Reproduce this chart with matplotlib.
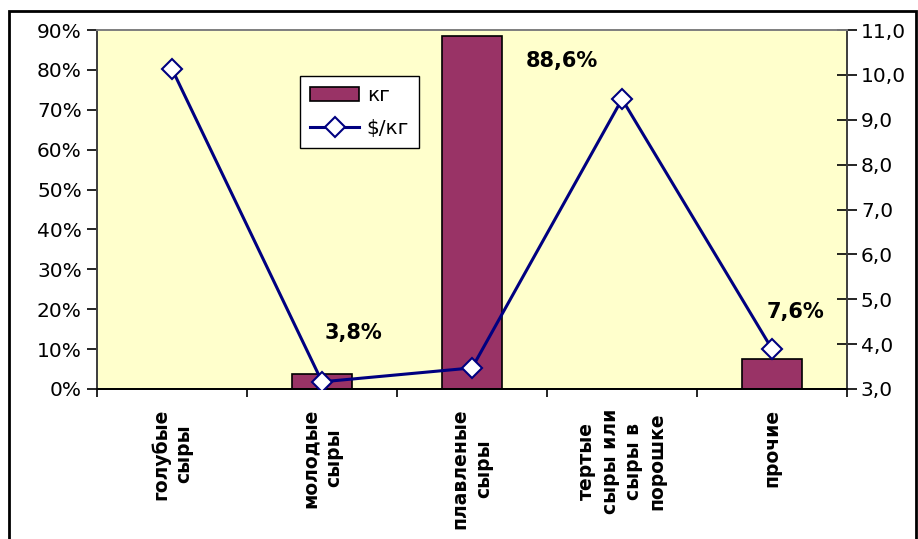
import numpy as np
import matplotlib.pyplot as plt
from matplotlib.patches import Rectangle
from matplotlib.ticker import FuncFormatter

# cheese categories, share by weight and price per kg
categories = ['голубые\nсыры', 'молодые\nсыры', 'плавленые\nсыры',
              'тертые\nсыры или\nсыры в\nпорошке', 'прочие']
share_kg = [np.nan, 3.8, 88.6, np.nan, 7.6]
price_per_kg = [10.13, 3.16, 3.47, 9.46, 3.89]
label_text = {1: '3,8%', 2: '88,6%', 4: '7,6%'}
label_offset = {1: (31, 41), 2: (90, -25), 4: (23, 47)}  # pixels from bar top

plt.rcParams['font.family'] = ['DejaVu Sans']

fig = plt.figure(figsize=(9.18, 5.39), dpi=100)
fig.patch.set_facecolor('white')
fig.patches.append(Rectangle((0.0098, -0.02), 0.988, 0.9996, transform=fig.transFigure,
                             fill=False, edgecolor='black', linewidth=2))

ax = fig.add_axes([0.1057, 0.2783, 0.8170, 0.6660])
ax.set_facecolor('#FFFFCC')
x = np.arange(len(categories))

ax.bar(x, np.nan_to_num(share_kg), width=0.4, color='#993366', edgecolor='black',
       linewidth=1.2, label='кг', zorder=2)
ax.set_xlim(-0.5, len(categories) - 0.5)
ax.set_ylim(0, 90)
ax.set_yticks(np.arange(0, 91, 10))
ax.yaxis.set_major_formatter(FuncFormatter(lambda v, p: '%d%%' % v))
ax.tick_params(axis='y', direction='out', length=7, labelsize=14.5, width=1.2, pad=4)

# category boundaries carry the ticks, names sit at the centres
ax.set_xticks(np.arange(-0.5, len(categories)), minor=False)
ax.set_xticklabels([])
ax.set_xticks(x, minor=True)
ax.set_xticklabels(categories, minor=True, rotation=90, fontsize=13.5,
                   fontweight='bold', va='top', ha='center', multialignment='center',
                   linespacing=1.3)
ax.tick_params(axis='x', which='major', direction='out', length=6, width=1.2)
ax.tick_params(axis='x', which='minor', length=0, pad=14)

for i, txt in label_text.items():
    ax.annotate(txt, (x[i], share_kg[i]), xytext=label_offset[i],
                textcoords='offset pixels', ha='center', va='center',
                fontsize=15, fontweight='bold', zorder=5)

ax2 = ax.twinx()
ax2.plot(x, price_per_kg, color='#000080', linewidth=2.2, marker='D',
         markersize=10, markerfacecolor='white', markeredgecolor='#000080',
         markeredgewidth=1.5, label='$/кг', zorder=4)
ax2.set_ylim(3, 11)
ax2.set_yticks(np.arange(3, 11.1, 1))
ax2.yaxis.set_major_formatter(FuncFormatter(lambda v, p: ('%.1f' % v).replace('.', ',')))
ax2.tick_params(axis='y', direction='inout', length=14, labelsize=14.5, width=1.2, pad=3)

for a in (ax, ax2):
    a.spines['top'].set_color('#808080')
    a.spines['left'].set_color('#404040')
    a.spines['right'].set_color('#404040')
    a.spines['bottom'].set_color('black')
    for s in a.spines.values():
        s.set_linewidth(1.3)

h1, l1 = ax.get_legend_handles_labels()
h2, l2 = ax2.get_legend_handles_labels()
leg = ax2.legend(h1 + h2, l1 + l2, loc='upper left', bbox_to_anchor=(0.271, 0.872),
                 borderaxespad=0, fontsize=14.5, frameon=True, fancybox=False,
                 framealpha=1, edgecolor='black', handlelength=2.4, handletextpad=0.4,
                 borderpad=0.5, labelspacing=0.7)
leg.get_frame().set_linewidth(1.0)

fig.savefig('out.png', dpi=100)
